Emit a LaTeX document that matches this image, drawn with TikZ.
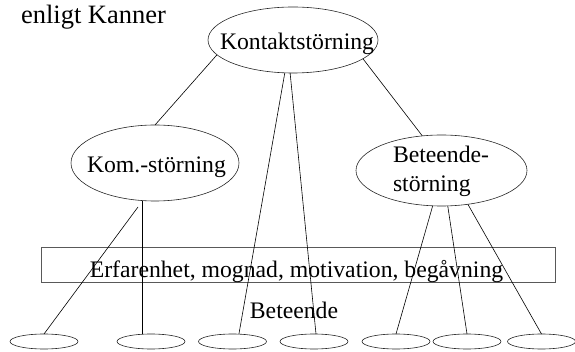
\documentclass[tikz,border=0pt]{standalone}
\usepackage{fontspec}
\setmainfont{Liberation Serif}
\usetikzlibrary{shapes.geometric}
\begin{document}
\begin{tikzpicture}[x=1pt,y=-1pt,
  oval/.style={draw=black!85, ellipse, inner sep=0pt, outer sep=0pt, line width=0.6pt},
  leaf/.style={oval, minimum width=68pt, minimum height=15pt},
  txt/.style={anchor=base west, inner sep=0pt, outer sep=0pt, font=\fontsize{23.7}{28}\selectfont},
  link/.style={draw=black, line width=0.6pt},
  ]
\useasboundingbox (0,0) rectangle (575,352);
% title
\node[txt, font=\fontsize{26.5}{30}\selectfont] (title) at (21,24) {enligt Kanner};
% main ellipses
\node[oval, minimum width=170pt, minimum height=66pt] (kontakt) at (293,40) {};
\node[txt] (kontakttxt) at (220,49.5) {Kontaktstörning};
\node[oval, minimum width=168pt, minimum height=76pt] (kom) at (155,163) {};
\node[txt] (komtxt) at (87,173) {Kom.-störning};
\node[oval, minimum width=171pt, minimum height=71pt] (beteende) at (441.5,170.5) {};
\node[txt] (betxt1) at (393,163) {Beteende-};
\node[txt] (betxt2) at (393,192) {störning};
% band
\node[draw=black!65, line width=0.6pt, minimum width=514pt, minimum height=35pt, inner sep=0pt, outer sep=0pt] (band) at (298,264.5) {};
\node[txt, anchor=base] (bandtxt) at (296.5,278) {Erfarenhet, mognad, motivation, begåvning};
\node[txt, anchor=base] (beh) at (294,318) {Beteende};
% leaves
\node[leaf] (b1) at (44,341.5) {};
\node[leaf] (b2) at (151,341.5) {};
\node[leaf] (b3) at (232.5,341.5) {};
\node[leaf] (b4) at (314,341.5) {};
\node[leaf] (b5) at (396,341.5) {};
\node[leaf] (b6) at (467,341.5) {};
\node[leaf] (b7) at (541.5,341.5) {};
% connectors
\coordinate (komfree) at (138,207);
\draw[link] (kontakt.191) -- (kom.north);
\draw[link] (kontakt.345) -- (beteende.119);
\draw[link] (kontakt.256) -- (b3.49);
\draw[link] (kontakt.265) -- (b4.75);
\draw[link] (komfree) -- (b1.north);
\draw[link, line width=1.2pt] (kom.252) -- (kom.252 |- b2.north);
\draw[link] (beteende.256) -- (b5.north);
\draw[link] (beteende.280) -- (b6.north);
\draw[link] (beteende.308) -- (b7.north);
\end{tikzpicture}
\end{document}
